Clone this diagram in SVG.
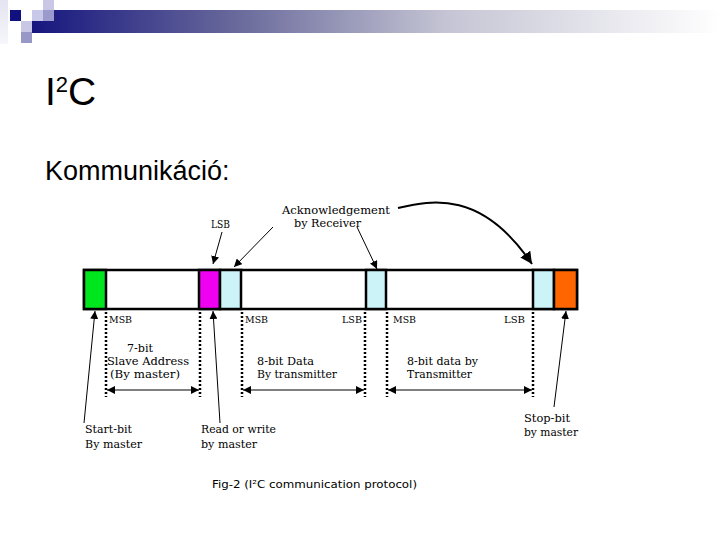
<svg xmlns="http://www.w3.org/2000/svg" width="720" height="540" viewBox="0 0 720 540">
<defs>
<linearGradient id="band" x1="0" y1="0" x2="1" y2="0">
<stop offset="0" stop-color="#16167f"/>
<stop offset="0.3" stop-color="#6a6a9c"/>
<stop offset="0.6" stop-color="#c4c4d4"/>
<stop offset="1" stop-color="#ffffff"/>
</linearGradient>
<linearGradient id="strip" x1="0" y1="0" x2="0" y2="1">
<stop offset="0" stop-color="#e4e4f2"/>
<stop offset="1" stop-color="#f6f6fb"/>
</linearGradient>
<marker id="ah" viewBox="0 0 10 10" refX="10" refY="5" markerWidth="8" markerHeight="8" markerUnits="userSpaceOnUse" orient="auto">
<path d="M0,0 L10,5 L0,10 z" fill="#000"/>
</marker>
<marker id="ahs" viewBox="0 0 10 10" refX="0" refY="5" markerWidth="8" markerHeight="8" markerUnits="userSpaceOnUse" orient="auto">
<path d="M10,0 L0,5 L10,10 z" fill="#000"/>
</marker>
<marker id="ahb" viewBox="0 0 10 10" refX="10" refY="5" markerWidth="12" markerHeight="12" markerUnits="userSpaceOnUse" orient="auto">
<path d="M0,0 L10,5 L0,10 z" fill="#000"/>
</marker>
</defs>
<style>
.lbl{font-family:"DejaVu Serif","Liberation Serif",serif;font-size:11px;fill:#000}
.sm{font-family:"DejaVu Serif","Liberation Serif",serif;font-size:9.5px;fill:#000}
.cell{stroke:#000;stroke-width:2.5}
.dot{stroke:#000;stroke-width:2.5;stroke-dasharray:2 2;fill:none}
.ln{stroke:#000;stroke-width:1;fill:none}
</style>
<rect width="720" height="540" fill="#fff"/>
<g id="header">
<rect x="0" y="0" width="8" height="44" fill="url(#strip)"/>
<rect x="32" y="10" width="688" height="23" fill="url(#band)"/>
<rect x="10" y="10" width="11" height="11" fill="#10107f"/>
<rect x="21" y="21" width="11" height="11" fill="#c8c8e6"/>
<rect x="32" y="10" width="11" height="11" fill="#c8c8e8"/>
<rect x="43" y="0" width="11" height="10" fill="#c8c8e6"/>
<rect x="43" y="10" width="11" height="11" fill="#9a9acc"/>
<rect x="21" y="32" width="11" height="11" fill="#9898c8"/>
</g>
<g id="title">
<text x="45" y="105" font-family="'Liberation Sans',Arial,sans-serif" font-size="39" fill="#000">I<tspan font-size="22" dy="-13">2</tspan><tspan dy="13">C</tspan></text>
<text x="45" y="180" font-family="'Liberation Sans',Arial,sans-serif" font-size="27" fill="#000">Kommunikáció:</text>
</g>
<g id="frame">
<rect class="cell" x="84" y="270" width="493" height="39" fill="#fff"/>
<rect class="cell" x="84" y="270" width="22" height="39" fill="#00e61e"/>
<rect class="cell" x="199" y="270" width="21" height="39" fill="#f000f0"/>
<rect class="cell" x="220" y="270" width="21" height="39" fill="#ccf4f8"/>
<rect class="cell" x="366" y="270" width="20" height="39" fill="#ccf4f8"/>
<rect class="cell" x="533" y="270" width="21" height="39" fill="#ccf4f8"/>
<rect class="cell" x="554" y="270" width="23" height="39" fill="#ff6600"/>
</g>
<g id="dividers">
<line class="dot" x1="106" y1="312" x2="106" y2="397"/>
<line class="dot" x1="200" y1="312" x2="200" y2="397"/>
<line class="dot" x1="242" y1="312" x2="242" y2="397"/>
<line class="dot" x1="365" y1="312" x2="365" y2="397"/>
<line class="dot" x1="387" y1="312" x2="387" y2="397"/>
<line class="dot" x1="533" y1="312" x2="533" y2="397"/>
</g>
<g id="connectors">
<line class="ln" x1="222" y1="232" x2="213" y2="264" marker-end="url(#ah)"/>
<line class="ln" x1="273" y1="227" x2="234" y2="267" marker-end="url(#ah)"/>
<line class="ln" x1="357" y1="227" x2="377" y2="269" marker-end="url(#ah)"/>
<path d="M398,208 C432,200 482,190 532,264" stroke="#000" stroke-width="2" fill="none" marker-end="url(#ahb)"/>
<line class="ln" x1="107" y1="390" x2="199" y2="390" marker-start="url(#ahs)" marker-end="url(#ah)"/>
<line class="ln" x1="243" y1="390" x2="364" y2="390" marker-start="url(#ahs)" marker-end="url(#ah)"/>
<line class="ln" x1="388" y1="390" x2="532" y2="390" marker-start="url(#ahs)" marker-end="url(#ah)"/>
<line class="ln" x1="84" y1="423" x2="95" y2="311" marker-end="url(#ah)"/>
<line class="ln" x1="220" y1="423" x2="213" y2="311" marker-end="url(#ah)"/>
<line class="ln" x1="554" y1="407" x2="566" y2="311" marker-end="url(#ah)"/>
</g>
<g id="labels">
<text class="lbl" x="211" y="228" textLength="19" lengthAdjust="spacingAndGlyphs">LSB</text>
<text class="lbl" x="282" y="214" textLength="108" lengthAdjust="spacingAndGlyphs">Acknowledgement</text>
<text class="lbl" x="294" y="227" textLength="67" lengthAdjust="spacingAndGlyphs">by Receiver</text>
<text class="sm" x="109" y="323" textLength="23" lengthAdjust="spacingAndGlyphs">MSB</text>
<text class="sm" x="245" y="323" textLength="23" lengthAdjust="spacingAndGlyphs">MSB</text>
<text class="sm" x="342" y="323" textLength="20" lengthAdjust="spacingAndGlyphs">LSB</text>
<text class="sm" x="393" y="323" textLength="23" lengthAdjust="spacingAndGlyphs">MSB</text>
<text class="sm" x="504" y="323" textLength="21" lengthAdjust="spacingAndGlyphs">LSB</text>
<text class="lbl" x="127" y="352" textLength="26" lengthAdjust="spacingAndGlyphs">7-bit</text>
<text class="lbl" x="107" y="365" textLength="82" lengthAdjust="spacingAndGlyphs">Slave Address</text>
<text class="lbl" x="110" y="378" textLength="70" lengthAdjust="spacingAndGlyphs">(By master)</text>
<text class="lbl" x="257" y="365" textLength="57" lengthAdjust="spacingAndGlyphs">8-bit Data</text>
<text class="lbl" x="257" y="378" textLength="80" lengthAdjust="spacingAndGlyphs">By transmitter</text>
<text class="lbl" x="407" y="365" textLength="71" lengthAdjust="spacingAndGlyphs">8-bit data by</text>
<text class="lbl" x="407" y="378" textLength="65" lengthAdjust="spacingAndGlyphs">Transmitter</text>
<text class="lbl" x="85" y="433" textLength="47" lengthAdjust="spacingAndGlyphs">Start-bit</text>
<text class="lbl" x="85" y="448" textLength="57" lengthAdjust="spacingAndGlyphs">By master</text>
<text class="lbl" x="201" y="433" textLength="75" lengthAdjust="spacingAndGlyphs">Read or write</text>
<text class="lbl" x="201" y="448" textLength="56" lengthAdjust="spacingAndGlyphs">by master</text>
<text class="lbl" x="524" y="422" textLength="46" lengthAdjust="spacingAndGlyphs">Stop-bit</text>
<text class="lbl" x="524" y="436" textLength="54" lengthAdjust="spacingAndGlyphs">by master</text>
<text x="212" y="488" font-family="'DejaVu Sans',Verdana,sans-serif" font-size="10" fill="#000" textLength="205" lengthAdjust="spacingAndGlyphs">Fig-2 (I²C communication protocol)</text>
</g>
</svg>
